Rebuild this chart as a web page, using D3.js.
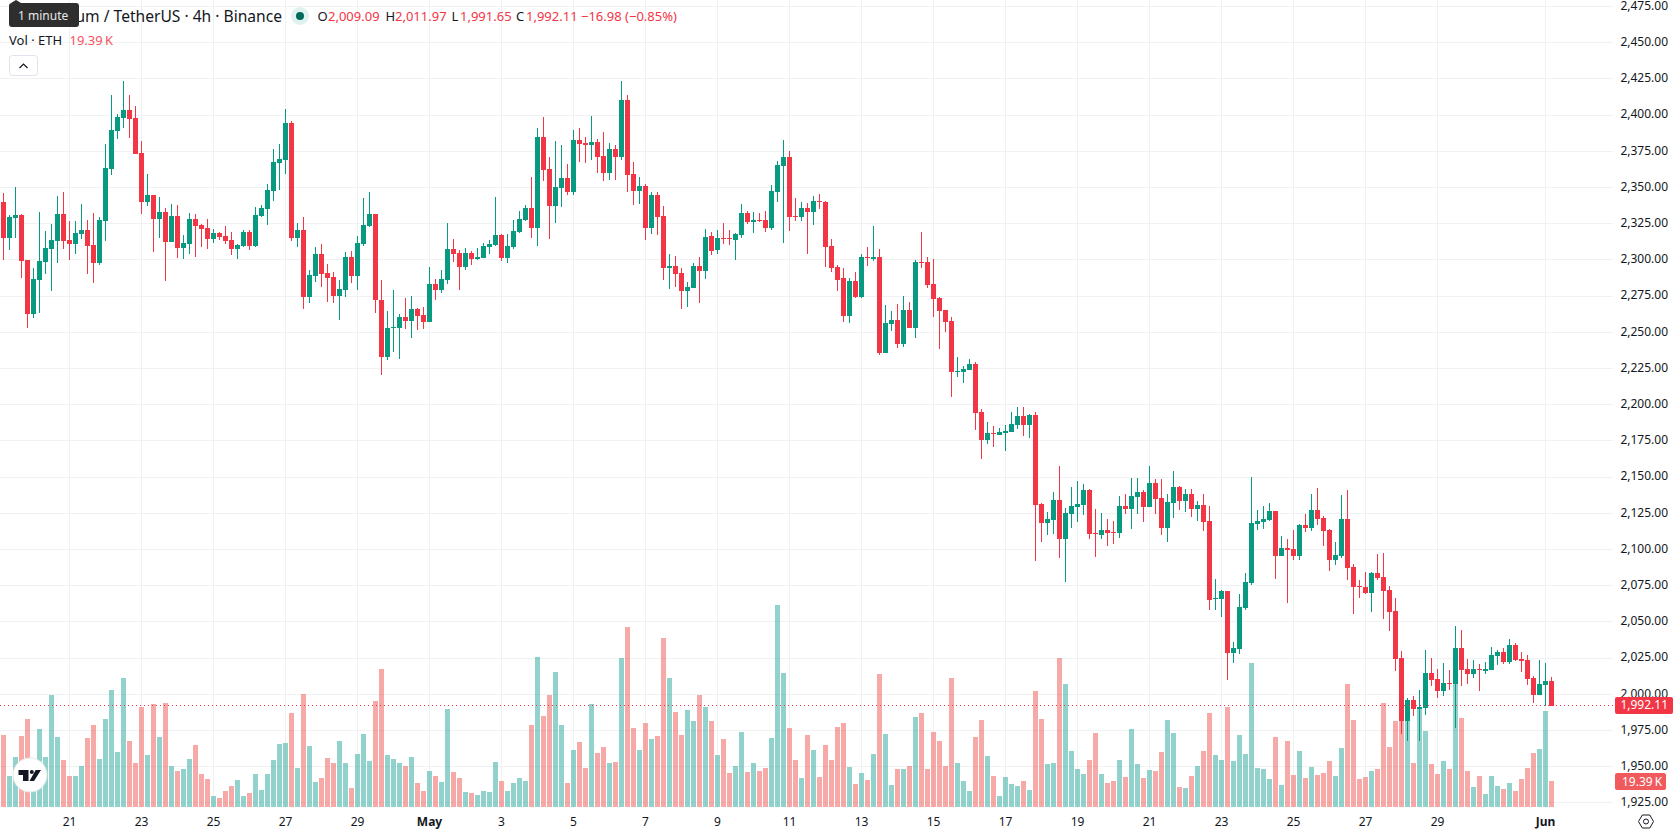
<!DOCTYPE html>
<html>
<head>
<meta charset="utf-8">
<title>Ethereum / TetherUS · 4h · Binance</title>
<script src="https://cdn.jsdelivr.net/npm/d3@7/dist/d3.min.js"></script>
<style>
html, body { margin: 0; padding: 0; background: #fff; overflow: hidden; }
svg { display: block; font-family: "Noto Sans", "Open Sans", sans-serif; }
text { fill: #131722; }
</style>
</head>
<body>
<svg id="chart" width="1678" height="835"></svg>
<script>
// Four-hour candles, oldest first.
const opens = [
2340.0,2315.1,2328.9,2331.0,2299.9,2262.6,2286.1,2298.6,2307.5,2313.1,
2331.7,2313.8,2311.0,2317.9,2320.7,2310.3,2297.9,2326.9,2362.8,2389.0,
2398.0,2403.5,2398.0,2373.8,2340.0,2344.8,2328.3,2333.1,2312.4,2330.3,
2308.2,2311.0,2328.3,2324.1,2322.0,2314.4,2318.6,2316.5,2313.8,2307.5,
2309.6,2319.3,2309.6,2330.3,2335.2,2347.6,2366.9,2369.0,2394.6,2315.1,
2320.7,2274.4,2288.9,2304.1,2291.0,2288.2,2275.1,2279.2,2302.0,2288.9,
2311.0,2323.4,2331.7,2272.3,2233.0,2253.0,2253.0,2260.6,2257.8,2266.1,
2262.0,2257.1,2283.4,2279.2,2286.1,2307.5,2304.8,2295.1,2304.8,2300.6,
2301.3,2308.9,2310.3,2317.2,2301.3,2308.9,2319.3,2327.6,2335.9,2322.0,
2384.9,2362.8,2337.2,2349.7,2356.6,2346.9,2382.8,2380.7,2379.4,2381.4,
2371.8,2360.0,2376.6,2371.1,2410.4,2359.3,2347.6,2351.0,2322.0,2344.8,
2330.3,2294.4,2295.8,2291.0,2278.5,2280.6,2295.8,2292.3,2316.5,2306.8,
2315.1,2315.1,2313.8,2317.2,2332.4,2326.2,2327.6,2327.6,2322.0,2346.9,
2364.9,2371.1,2330.3,2329.6,2335.9,2333.1,2340.7,2340.0,2309.6,2295.1,
2287.5,2261.3,2285.4,2274.4,2302.0,2300.6,2302.0,2235.7,2255.7,2258.5,
2241.9,2265.4,2253.0,2298.6,2298.6,2283.4,2273.7,2265.4,2257.8,2222.6,
2222.6,2224.0,2228.1,2195.0,2175.6,2180.5,2179.1,2180.5,2181.2,2186.0,
2192.2,2186.0,2192.9,2131.4,2118.3,2120.4,2134.2,2107.3,2124.5,2129.4,
2130.7,2141.1,2111.4,2110.0,2113.5,2112.1,2111.4,2130.1,2128.0,2136.3,
2139.7,2129.4,2145.9,2135.6,2114.9,2132.1,2143.2,2133.5,2138.3,2128.0,
2130.7,2119.7,2065.8,2065.8,2071.3,2028.5,2031.3,2059.6,2076.9,2117.6,
2119.0,2120.4,2126.6,2095.5,2101.1,2100.4,2095.5,2116.9,2114.9,2127.3,
2121.8,2113.5,2092.8,2095.5,2121.1,2087.9,2074.8,2074.1,2070.0,2083.8,
2081.0,2072.0,2057.5,2025.1,1981.6,1996.1,1989.9,1990.6,2014.7,2010.6,
2002.3,2007.8,2007.1,2032.0,2017.5,2014.0,2017.5,2016.1,2016.8,2026.5,
2029.2,2022.3,2034.1,2024.4,2023.7,2011.3,1999.5,2006.4,2009.09];

const highs = [
2346.0,2331.0,2350.1,2331.7,2299.9,2294.4,2333.1,2320.0,2324.8,2344.1,
2346.9,2326.9,2326.9,2338.6,2327.6,2332.4,2329.6,2380.1,2413.9,2400.8,
2423.6,2413.9,2406.3,2382.1,2359.3,2344.8,2343.5,2335.9,2338.6,2337.9,
2317.2,2332.4,2331.7,2324.8,2328.3,2321.4,2319.3,2323.4,2319.3,2311.0,
2320.7,2320.7,2336.5,2337.9,2352.4,2376.6,2380.1,2404.2,2395.9,2325.5,
2329.6,2293.0,2308.9,2311.0,2297.2,2291.7,2286.1,2305.5,2306.2,2316.5,
2342.8,2346.9,2331.7,2286.1,2264.7,2279.2,2262.6,2273.7,2275.1,2266.8,
2267.5,2295.1,2286.8,2293.0,2325.5,2314.4,2306.8,2308.2,2306.2,2308.2,
2311.7,2313.8,2343.5,2317.9,2317.9,2327.6,2333.8,2337.9,2357.3,2391.1,
2398.7,2371.1,2382.1,2379.4,2366.2,2389.7,2391.1,2384.9,2399.4,2383.5,
2388.3,2380.7,2379.4,2423.6,2413.9,2367.6,2357.3,2352.4,2346.9,2346.9,
2337.2,2304.1,2302.7,2294.4,2284.7,2297.9,2302.0,2321.4,2319.3,2320.7,
2325.5,2320.7,2318.6,2338.6,2333.8,2333.1,2332.4,2333.8,2351.7,2368.3,
2382.8,2375.2,2342.8,2340.0,2339.3,2344.1,2345.5,2340.7,2314.4,2296.5,
2294.4,2287.5,2291.7,2304.1,2308.9,2323.4,2307.5,2268.9,2264.7,2269.6,
2275.1,2270.9,2299.9,2319.3,2302.0,2300.6,2274.4,2265.4,2260.6,2233.0,
2226.7,2231.6,2229.5,2197.0,2188.1,2185.3,2183.9,2186.0,2195.0,2198.4,
2198.4,2193.6,2195.0,2132.1,2125.9,2139.7,2157.7,2128.7,2143.2,2147.3,
2145.2,2141.8,2128.0,2125.2,2121.1,2119.7,2137.0,2138.3,2149.4,2149.4,
2141.1,2157.7,2148.7,2148.7,2138.3,2154.2,2143.9,2141.8,2141.8,2133.5,
2138.3,2130.1,2079.6,2072.0,2071.3,2036.1,2069.3,2083.8,2150.1,2127.3,
2130.1,2132.1,2126.6,2109.3,2107.3,2113.5,2117.6,2124.5,2138.3,2142.5,
2123.1,2114.2,2105.2,2137.7,2141.1,2090.0,2079.0,2084.5,2084.5,2096.9,
2097.6,2074.8,2066.5,2029.9,1997.5,1998.8,2003.0,2030.6,2025.1,2017.5,
2021.6,2016.8,2047.2,2044.4,2024.4,2023.7,2020.9,2022.3,2032.7,2030.6,
2032.0,2038.2,2035.4,2029.2,2027.2,2012.7,2023.7,2021.6,2011.97];

const lows = [
2299.9,2306.8,2315.1,2287.5,2253.0,2259.9,2263.3,2290.3,2278.5,2297.9,
2307.5,2299.9,2304.1,2314.4,2290.3,2284.1,2296.5,2313.1,2358.6,2383.5,
2391.1,2384.2,2373.1,2331.7,2337.2,2305.5,2315.1,2285.4,2312.4,2301.3,
2300.6,2304.1,2302.0,2308.9,2307.5,2311.7,2313.8,2311.0,2303.4,2300.6,
2308.9,2306.8,2308.9,2329.6,2324.1,2340.7,2348.3,2359.3,2313.1,2308.9,
2266.1,2270.2,2284.7,2281.3,2270.9,2270.2,2258.5,2274.4,2284.1,2279.2,
2309.6,2322.7,2263.3,2220.5,2230.9,2236.4,2231.6,2252.3,2246.1,2251.6,
2252.3,2257.1,2272.3,2277.2,2283.4,2298.6,2279.2,2293.0,2296.5,2299.9,
2301.3,2304.1,2309.6,2299.3,2297.9,2307.5,2318.6,2326.9,2315.1,2309.6,
2354.5,2314.4,2325.5,2336.5,2344.8,2344.8,2367.6,2366.9,2369.0,2360.0,
2354.5,2355.2,2355.2,2369.0,2346.9,2337.9,2338.6,2313.8,2317.9,2317.2,
2286.1,2279.9,2281.3,2266.1,2267.5,2280.6,2270.2,2286.8,2303.4,2304.1,
2311.0,2310.3,2299.9,2315.1,2324.8,2318.6,2326.2,2319.3,2320.7,2340.0,
2311.7,2320.0,2326.9,2326.9,2304.1,2324.1,2335.2,2295.1,2291.7,2278.5,
2257.1,2256.4,2273.7,2273.7,2295.8,2299.3,2234.3,2235.7,2250.9,2239.2,
2239.9,2253.0,2246.1,2294.4,2280.6,2260.6,2238.5,2250.2,2205.3,2219.1,
2215.0,2224.0,2182.5,2162.5,2172.9,2170.8,2179.1,2168.0,2181.2,2183.2,
2178.4,2177.0,2092.1,2105.2,2110.0,2110.7,2094.1,2077.6,2114.9,2119.0,
2123.8,2107.3,2094.8,2107.3,2102.4,2103.8,2108.0,2124.5,2114.2,2124.5,
2119.0,2129.4,2124.5,2110.0,2105.2,2121.8,2127.3,2125.9,2122.5,2119.7,
2112.8,2058.2,2058.2,2053.4,2009.9,2021.6,2027.8,2058.2,2075.5,2113.5,
2114.2,2119.7,2079.6,2095.5,2063.1,2092.8,2092.8,2112.1,2112.8,2116.9,
2102.4,2085.2,2089.3,2094.1,2079.0,2055.5,2066.5,2069.3,2056.9,2079.0,
2052.0,2043.7,2016.1,1972.6,1967.8,1985.0,1967.8,1985.7,2005.7,1997.5,
1998.8,2003.0,1976.7,2005.7,2007.1,2011.3,2002.3,2014.0,2016.8,2020.3,
2020.9,2020.9,2023.0,2015.4,2006.4,1994.0,1999.5,1991.9,1991.65];

const closes = [
2315.1,2329.6,2331.0,2299.3,2262.6,2286.8,2299.3,2308.2,2313.8,2331.7,
2313.1,2311.0,2318.6,2320.7,2309.6,2297.9,2327.6,2363.5,2389.7,2398.7,
2403.5,2397.3,2373.1,2340.0,2344.8,2328.3,2333.1,2312.4,2330.3,2308.2,
2311.7,2328.3,2323.4,2321.4,2314.4,2318.6,2315.8,2313.1,2307.5,2310.3,
2319.3,2309.6,2331.0,2335.9,2348.3,2367.6,2369.7,2394.6,2315.1,2320.7,
2274.4,2289.6,2304.1,2290.3,2287.5,2275.1,2279.9,2302.0,2288.9,2311.7,
2324.1,2331.7,2272.3,2233.0,2253.0,2253.7,2260.6,2257.8,2266.1,2261.3,
2257.1,2283.4,2279.2,2286.8,2307.5,2304.1,2295.1,2304.8,2300.6,2302.0,
2309.6,2311.0,2317.2,2301.3,2309.6,2320.0,2328.3,2335.9,2322.0,2384.9,
2362.1,2337.2,2350.4,2356.6,2346.9,2382.8,2380.1,2379.4,2381.4,2371.1,
2360.0,2376.6,2371.1,2410.4,2358.6,2347.6,2351.0,2322.0,2344.8,2329.6,
2294.4,2295.8,2290.3,2278.5,2281.3,2295.8,2292.3,2315.8,2306.2,2315.1,
2314.4,2314.4,2317.9,2332.4,2326.2,2327.6,2326.9,2322.0,2347.6,2365.5,
2371.1,2329.6,2329.6,2335.9,2333.1,2340.7,2340.0,2308.9,2294.4,2286.1,
2261.3,2285.4,2274.4,2302.0,2301.3,2302.0,2235.7,2256.4,2258.5,2241.9,
2265.4,2253.0,2298.6,2297.9,2282.7,2273.0,2264.7,2257.1,2222.6,2223.3,
2224.7,2228.1,2194.3,2175.6,2180.5,2179.8,2181.2,2181.9,2186.7,2192.2,
2186.0,2192.9,2130.7,2118.3,2121.1,2134.2,2107.3,2125.2,2130.1,2131.4,
2141.1,2110.7,2110.7,2113.5,2111.4,2111.4,2130.1,2128.0,2137.0,2139.7,
2129.4,2145.9,2134.9,2114.9,2132.8,2143.2,2133.5,2138.3,2128.0,2130.7,
2119.0,2065.1,2066.5,2071.3,2028.5,2032.0,2060.3,2077.6,2118.3,2119.7,
2121.1,2126.6,2095.5,2101.1,2099.7,2095.5,2116.9,2114.9,2127.3,2121.1,
2112.8,2092.8,2096.2,2121.1,2087.2,2074.1,2074.1,2070.0,2083.8,2080.3,
2071.3,2056.9,2024.4,1981.6,1996.1,1989.9,1991.2,2014.7,2009.9,2002.3,
2007.8,2007.1,2032.0,2016.8,2014.0,2017.5,2016.8,2017.5,2027.2,2029.2,
2022.3,2034.1,2023.7,2023.0,2010.6,1999.5,2007.1,2009.1,1992.11];

// Traded volume per candle, in thousands of ETH.
const volumes = [
53.7,23.1,37.3,53.0,65.6,23.9,58.2,37.3,83.5,52.2,
35.1,23.1,23.1,30.6,51.5,61.2,35.8,65.6,87.3,41.0,
96.2,49.2,32.8,74.6,38.8,76.8,52.2,77.6,30.6,26.8,
28.3,35.8,46.2,24.6,20.9,8.2,6.7,11.9,15.7,20.1,
8.2,10.4,24.6,12.7,24.6,35.1,47.0,47.7,70.1,29.1,
84.3,45.5,18.6,21.6,36.5,32.8,49.2,32.8,14.2,39.5,
54.4,34.3,79.1,102.9,38.8,35.8,32.8,30.6,37.3,17.9,
11.9,26.8,23.1,18.6,73.1,26.1,21.6,11.2,10.4,8.9,
11.9,11.2,33.6,19.4,11.9,17.9,21.6,19.4,61.2,111.9,
67.9,83.5,100.7,61.2,17.9,42.5,48.5,29.1,76.8,40.3,
44.7,32.8,33.6,111.1,134.2,58.9,42.5,62.6,50.7,53.0,
126.0,96.2,70.9,53.7,72.3,64.1,83.5,74.6,64.1,38.8,
50.7,25.4,30.6,55.9,26.1,32.8,26.8,29.1,51.5,150.7,
99.9,58.9,35.1,21.6,53.7,42.5,22.4,46.2,35.1,59.7,
62.6,29.8,17.2,25.4,20.1,39.5,99.2,54.4,16.4,28.3,
28.3,30.6,67.1,70.1,28.3,55.9,49.2,30.6,96.2,32.8,
19.4,11.9,52.2,64.9,38.0,23.1,8.2,22.4,17.2,15.7,
19.4,12.7,86.5,65.6,32.1,32.8,111.1,91.7,41.8,28.3,
24.6,35.1,55.2,24.6,17.9,19.4,35.1,22.4,58.2,32.1,
21.6,27.6,26.8,41.0,64.9,55.2,14.9,14.2,23.1,30.6,
41.8,70.1,38.8,35.1,74.6,34.3,53.7,39.5,107.4,29.1,
28.3,20.9,52.2,16.4,49.2,23.9,41.8,21.6,29.8,23.9,
25.4,34.3,23.1,44.0,91.7,64.9,20.9,22.4,26.8,28.3,
77.6,44.7,64.1,64.1,64.9,32.8,73.8,56.7,32.1,24.6,
34.3,28.3,91.7,66.4,26.8,14.9,23.1,9.7,23.1,15.7,
13.4,17.9,11.9,20.9,29.1,40.3,43.3,71.6,19.39];

// Date labels and the candle each one sits on.
const tickLabels = ["21","23","25","27","29","May","3","5","7","9","11","13","15","17","19","21","23","25","27","29","Jun"];
const tickBars   = [11,23,35,47,59,71,83,95,107,119,131,143,155,167,179,191,203,215,227,239,257];
const boldTicks  = ["May","Jun"];

// Price axis levels.
const priceTicks = [2475,2450,2425,2400,2375,2350,2325,2300,2275,2250,2225,2200,2175,2150,2125,2100,2075,2050,2025,2000,1975,1950,1925];

// Legend readings for the latest candle.
const legendOHLC = [["O","2,009.09"],["H","2,011.97"],["L","1,991.65"],["C","1,992.11"]];
const legendChange = "−16.98 (−0.85%)";
const lastClose = 1992.11;
const lastVolume = 19.39;
const volumeText = lastVolume + "\u2009K";

const UP = "#089981", DOWN = "#f23645";
const VOL_UP = "rgba(38,166,154,0.5)", VOL_DOWN = "rgba(239,83,80,0.5)";
const GRID = "#f0f1f3";
const plotRight = 1613;

const svg = d3.select("#chart");
const x = d3.scaleLinear().domain([0, opens.length - 1]).range([3.5, 1551.5]);
const y = d3.scaleLinear().domain([1925, 2475]).range([802.9, 6.5]);
const yVol = d3.scaleLinear().domain([0, 150.7]).range([807, 605]);
const fmtPrice = d3.format(",.2f");
const bars = d3.range(opens.length);
const isUp = i => closes[i] >= opens[i];

// Grid
const grid = svg.append("g").attr("shape-rendering", "crispEdges");
grid.selectAll("line.h").data(priceTicks).join("line").attr("class", "h")
  .attr("x1", 0).attr("x2", plotRight)
  .attr("y1", d => Math.floor(y(d)) + 0.5).attr("y2", d => Math.floor(y(d)) + 0.5)
  .attr("stroke", GRID);
grid.selectAll("line.v").data(tickBars).join("line").attr("class", "v")
  .attr("y1", 0).attr("y2", 808)
  .attr("x1", d => x(d)).attr("x2", d => x(d))
  .attr("stroke", GRID);

// Volume columns sit under the candles
svg.append("g").attr("shape-rendering", "crispEdges")
  .selectAll("rect").data(bars).join("rect")
  .attr("x", i => x(i) - 2.5).attr("width", 5)
  .attr("y", i => yVol(volumes[i]))
  .attr("height", i => yVol(0) - yVol(volumes[i]))
  .attr("fill", i => isUp(i) ? VOL_UP : VOL_DOWN);

// Candles
const candles = svg.append("g").attr("shape-rendering", "crispEdges");
candles.selectAll("rect.wick").data(bars).join("rect").attr("class", "wick")
  .attr("x", i => x(i) - 0.5).attr("width", 1)
  .attr("y", i => y(highs[i]))
  .attr("height", i => y(lows[i]) - y(highs[i]))
  .attr("fill", i => isUp(i) ? UP : DOWN);
candles.selectAll("rect.body").data(bars).join("rect").attr("class", "body")
  .attr("x", i => x(i) - 2.5).attr("width", 5)
  .attr("y", i => y(Math.max(opens[i], closes[i])))
  .attr("height", i => Math.max(1, Math.abs(y(opens[i]) - y(closes[i]))))
  .attr("fill", i => isUp(i) ? UP : DOWN);

// Last-price line
const lastY = Math.floor(y(lastClose)) + 0.5;
svg.append("line").attr("x1", 0).attr("x2", plotRight).attr("y1", lastY).attr("y2", lastY)
  .attr("stroke", DOWN).attr("stroke-width", 1).attr("stroke-dasharray", "1 3");

// Price axis
svg.append("g").selectAll("text").data(priceTicks).join("text")
  .attr("x", 1668).attr("y", d => y(d) + 3.3)
  .attr("text-anchor", "end").attr("font-size", 12)
  .text(d => fmtPrice(d));

svg.append("rect").attr("x", 1615).attr("y", lastY - 8.5).attr("width", 58).attr("height", 17).attr("rx", 2).attr("fill", DOWN);
svg.append("text").attr("x", 1668).attr("y", lastY + 3.8).attr("text-anchor", "end")
  .attr("font-size", 12).style("fill", "#fff").text(fmtPrice(lastClose));

svg.append("rect").attr("x", 1615).attr("y", 773).attr("width", 51).attr("height", 17).attr("rx", 2).attr("fill", "#f05a5c");
svg.append("text").attr("x", 1622).attr("y", 786).attr("font-size", 12).style("fill", "#fff").text(volumeText);

// Date axis
svg.append("g").selectAll("text").data(tickBars).join("text")
  .attr("x", d => x(d)).attr("y", 826).attr("text-anchor", "middle").attr("font-size", 12)
  .attr("font-weight", (d, i) => boldTicks.includes(tickLabels[i]) ? 700 : 400)
  .text((d, i) => tickLabels[i]);

// Legend
svg.append("text").attr("x", 282).attr("y", 21.5).attr("text-anchor", "end").attr("font-size", 15.6)
  .text("Ethereum / TetherUS · 4h · Binance");
svg.append("circle").attr("cx", 300).attr("cy", 16).attr("r", 9).attr("fill", "#dff2ef");
svg.append("circle").attr("cx", 300).attr("cy", 16).attr("r", 4).attr("fill", "#00695c");

const legendX = [[317.5, 328], [385.5, 395], [451.5, 460], [516, 526]];
const legend = svg.append("g").attr("font-size", 13);
legendOHLC.forEach(([k, v], i) => {
  legend.append("text").attr("x", legendX[i][0]).attr("y", 21).text(k);
  legend.append("text").attr("x", legendX[i][1]).attr("y", 21).style("fill", DOWN).text(v);
});
legend.append("text").attr("x", 581).attr("y", 21).style("fill", DOWN).text(legendChange);
legend.append("text").attr("x", 9).attr("y", 45).text("Vol · ETH");
legend.append("text").attr("x", 69.5).attr("y", 45).style("fill", "#f7525f").text(volumeText);

// Collapse button
svg.append("rect").attr("x", 9.5).attr("y", 55.5).attr("width", 28).attr("height", 20).attr("rx", 3)
  .attr("fill", "#fff").attr("stroke", "#e0e3eb");
svg.append("path").attr("d", "M19.5 68 L23.5 64 L27.5 68").attr("fill", "none").attr("stroke", "#131722").attr("stroke-width", 1.2);

// Tooltip over the legend
svg.append("path").attr("d", "M11 3 L16 0 L21 3 Z").attr("fill", "#2e2e2e");
svg.append("rect").attr("x", 9).attr("y", 3).attr("width", 70).attr("height", 24).attr("rx", 3).attr("fill", "#2e2e2e");
svg.append("text").attr("x", 18).attr("y", 20).attr("font-size", 12).style("fill", "#e8e8e8").text("1 minute");

// Brand badge
const badge = svg.append("g");
badge.append("circle").attr("cx", 30).attr("cy", 775).attr("r", 17).attr("fill", "#fff").attr("stroke", "#e8e8e8");
badge.append("path").attr("fill", "#131722").attr("d",
  "M18.5 770 H28.5 V781 H23 V775 H18.5 Z M41 770 L34 781 H29.5 L35.7 770 Z");
badge.append("circle").attr("cx", 31.8).attr("cy", 772).attr("r", 2).attr("fill", "#131722");

// Settings icon
svg.append("path").attr("fill", "none").attr("stroke", "#131722").attr("stroke-width", 1)
  .attr("d", d3.range(6).map(k => {
    const a = Math.PI / 3 * k;
    return (k ? "L" : "M") + (1646 + 7.5 * Math.cos(a)).toFixed(1) + " " + (821.5 + 7.5 * Math.sin(a)).toFixed(1);
  }).join(" ") + " Z");
svg.append("circle").attr("cx", 1646).attr("cy", 821.5).attr("r", 2.5).attr("fill", "none").attr("stroke", "#131722");
</script>
</body>
</html>
